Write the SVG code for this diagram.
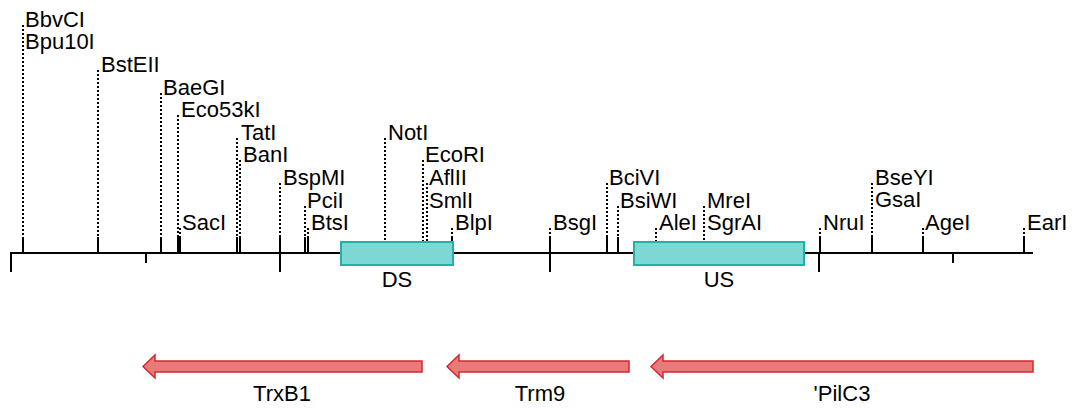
<svg xmlns="http://www.w3.org/2000/svg" width="1076" height="410" viewBox="0 0 1076 410">
<style>
text{font-family:"Liberation Sans",Arial,sans-serif;font-size:22px;fill:#000}
.tk{stroke:#000;stroke-width:2;fill:none}
.dt{stroke:#000;stroke-width:2;stroke-dasharray:2,2;fill:none}
.box{fill:#7dd8d4;stroke:#1fb1aa;stroke-width:2}
.arr{fill:#e87a7b;stroke:#d8262c;stroke-width:1.5}
.mid{text-anchor:middle}
</style>
<rect width="1076" height="410" fill="#fff"/>
<g id="connectors">
<line class="tk" x1="11" y1="253" x2="1033" y2="253"/>
<path class="tk" d="M11 252V272M146 253V263M280 253V272M550 253V272M819 253V272M953 253V263"/>
</g>
<g id="site-BbvCI-Bpu10I"><line class="dt" x1="23" y1="25" x2="23" y2="237"/><line class="tk" x1="23" y1="237" x2="23" y2="253"/><text x="25" y="27">BbvCI</text><text x="25" y="49">Bpu10I</text></g>
<g id="site-BstEII"><line class="dt" x1="98" y1="70" x2="98" y2="237"/><line class="tk" x1="98" y1="237" x2="98" y2="253"/><text x="101" y="72">BstEII</text></g>
<g id="site-BaeGI"><line class="dt" x1="161" y1="93" x2="161" y2="237"/><line class="tk" x1="161" y1="237" x2="161" y2="253"/><text x="163" y="95">BaeGI</text></g>
<g id="site-Eco53kI"><line class="dt" x1="178" y1="115" x2="178" y2="237"/><line class="tk" x1="178" y1="237" x2="178" y2="253"/><text x="181" y="117">Eco53kI</text></g>
<g id="site-SacI"><line class="dt" x1="180" y1="228" x2="180" y2="237"/><line class="tk" x1="180" y1="237" x2="180" y2="253"/><text x="182" y="230">SacI</text></g>
<g id="site-TatI"><line class="dt" x1="237" y1="138" x2="237" y2="237"/><line class="tk" x1="237" y1="237" x2="237" y2="253"/><text x="241" y="140">TatI</text></g>
<g id="site-BanI"><line class="dt" x1="240" y1="160" x2="240" y2="237"/><line class="tk" x1="240" y1="237" x2="240" y2="253"/><text x="243" y="162">BanI</text></g>
<g id="site-BspMI"><line class="dt" x1="280" y1="183" x2="280" y2="237"/><line class="tk" x1="280" y1="237" x2="280" y2="253"/><text x="283" y="185">BspMI</text></g>
<g id="site-PciI"><line class="dt" x1="305" y1="206" x2="305" y2="237"/><line class="tk" x1="305" y1="237" x2="305" y2="253"/><text x="307" y="208">PciI</text></g>
<g id="site-BtsI"><line class="dt" x1="308" y1="228" x2="308" y2="237"/><line class="tk" x1="308" y1="237" x2="308" y2="253"/><text x="311" y="230">BtsI</text></g>
<g id="site-NotI"><line class="dt" x1="385" y1="138" x2="385" y2="242"/><text x="388" y="140">NotI</text></g>
<g id="site-EcoRI"><line class="dt" x1="423" y1="160" x2="423" y2="242"/><text x="425" y="162">EcoRI</text></g>
<g id="site-AflII-SmlI"><line class="dt" x1="427" y1="183" x2="427" y2="242"/><text x="429" y="185">AflII</text><text x="429" y="208">SmlI</text></g>
<g id="site-BlpI"><line class="dt" x1="452" y1="228" x2="452" y2="237"/><line class="tk" x1="452" y1="237" x2="452" y2="253"/><text x="455" y="230">BlpI</text></g>
<g id="site-BsgI"><line class="dt" x1="550" y1="228" x2="550" y2="237"/><line class="tk" x1="550" y1="237" x2="550" y2="253"/><text x="553" y="230">BsgI</text></g>
<g id="site-BciVI"><line class="dt" x1="607" y1="183" x2="607" y2="237"/><line class="tk" x1="607" y1="237" x2="607" y2="253"/><text x="609" y="185">BciVI</text></g>
<g id="site-BsiWI"><line class="dt" x1="618" y1="206" x2="618" y2="237"/><line class="tk" x1="618" y1="237" x2="618" y2="253"/><text x="620" y="208">BsiWI</text></g>
<g id="site-AleI"><line class="dt" x1="656" y1="228" x2="656" y2="242"/><text x="659" y="230">AleI</text></g>
<g id="site-MreI-SgrAI"><line class="dt" x1="704" y1="206" x2="704" y2="242"/><text x="707" y="208">MreI</text><text x="707" y="230">SgrAI</text></g>
<g id="site-NruI"><line class="dt" x1="820" y1="228" x2="820" y2="237"/><line class="tk" x1="820" y1="237" x2="820" y2="253"/><text x="823" y="230">NruI</text></g>
<g id="site-BseYI-GsaI"><line class="dt" x1="872" y1="183" x2="872" y2="237"/><line class="tk" x1="872" y1="237" x2="872" y2="253"/><text x="875" y="185">BseYI</text><text x="875" y="207">GsaI</text></g>
<g id="site-AgeI"><line class="dt" x1="923" y1="228" x2="923" y2="237"/><line class="tk" x1="923" y1="237" x2="923" y2="253"/><text x="925" y="230">AgeI</text></g>
<g id="site-EarI"><line class="dt" x1="1024" y1="228" x2="1024" y2="237"/><line class="tk" x1="1024" y1="237" x2="1024" y2="253"/><text x="1027" y="230">EarI</text></g>
<g id="DS"><rect class="box" x="341" y="242" width="112" height="23"/><text class="mid" x="397" y="287">DS</text></g>
<g id="US"><rect class="box" x="634" y="242" width="170" height="23"/><text class="mid" x="719" y="287">US</text></g>
<g id="TrxB1"><polygon class="arr" points="143,366.5 155,355 155,361 422,361 422,372 155,372 155,378"/><text class="mid" x="282" y="401">TrxB1</text></g>
<g id="Trm9"><polygon class="arr" points="447,366.5 459,355 459,361 629,361 629,372 459,372 459,378"/><text class="mid" x="540" y="401">Trm9</text></g>
<g id="PilC3"><polygon class="arr" points="651,366.5 663,355 663,361 1033,361 1033,372 663,372 663,378"/><text class="mid" x="842" y="401">'PilC3</text></g>
</svg>
